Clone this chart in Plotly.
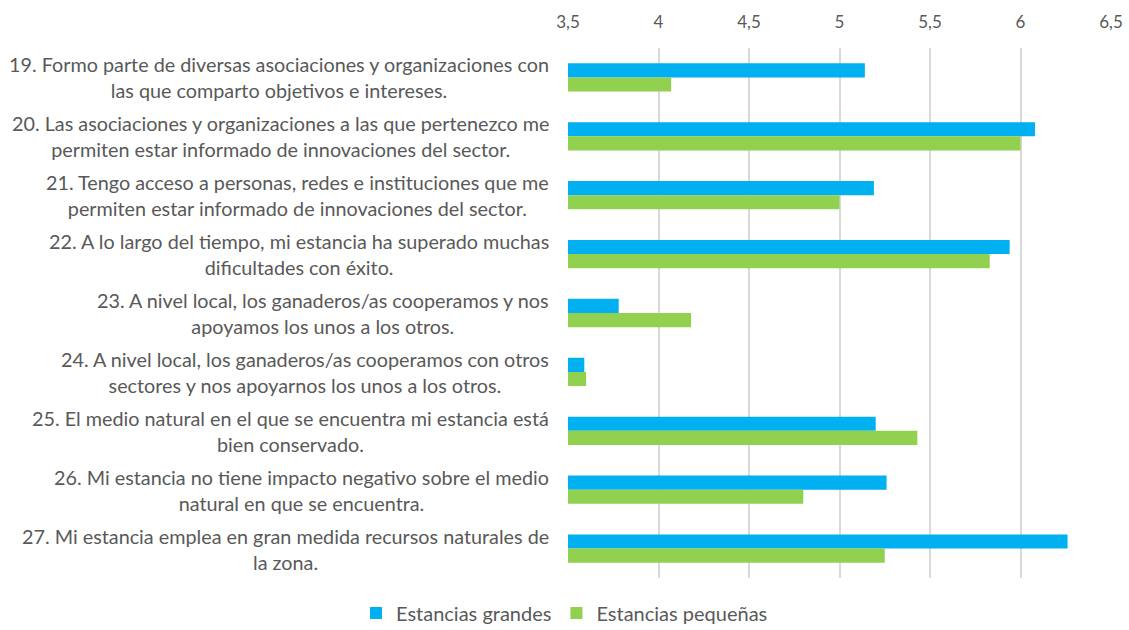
import plotly.graph_objects as go

categories = [
    "19. Formo parte de diversas asociaciones y organizaciones con<br>las que comparto objetivos e intereses.",
    "20. Las asociaciones y organizaciones a las que pertenezco me<br>permiten estar informado de innovaciones del sector.",
    "21. Tengo acceso a personas, redes e instituciones que me<br>permiten estar informado de innovaciones del sector.",
    "22. A lo largo del tiempo, mi estancia ha superado muchas<br>dificultades con éxito.",
    "23. A nivel local, los ganaderos/as cooperamos y nos<br>apoyamos los unos a los otros.",
    "24. A nivel local, los ganaderos/as cooperamos con otros<br>sectores y nos apoyarnos los unos a los otros.",
    "25. El medio natural en el que se encuentra mi estancia está<br>bien conservado.",
    "26. Mi estancia no tiene impacto negativo sobre el medio<br>natural en que se encuentra.",
    "27. Mi estancia emplea en gran medida recursos naturales de<br>la zona.",
]
grandes = [5.14, 6.08, 5.19, 5.94, 3.78, 3.59, 5.20, 5.26, 6.26]
pequenas = [4.07, 6.00, 5.00, 5.83, 4.18, 3.60, 5.43, 4.80, 5.25]
tick_vals = [3.5, 4, 4.5, 5, 5.5, 6, 6.5]

cat_ids = ["q" + c.split(".")[0] for c in categories]

FONT = "Lato"
GREY = "#595959"

fig = go.Figure()
fig.add_trace(go.Bar(y=cat_ids, x=grandes, orientation="h", name="Estancias grandes",
                     marker=dict(color="#00B0F0", line=dict(width=0))))
fig.add_trace(go.Bar(y=cat_ids, x=pequenas, orientation="h", name="Estancias pequeñas",
                     marker=dict(color="#92D050", line=dict(width=0))))

for cid, label in zip(cat_ids, categories):
    fig.add_annotation(x=0, xref="paper", y=cid, yref="y", text=label, showarrow=False,
                       xanchor="right", yanchor="middle", align="center", xshift=-17,
                       font=dict(family=FONT, size=19.8, color=GREY))

fig.update_layout(
    width=1129, height=630,
    margin=dict(l=568, r=18, t=48, b=52, autoexpand=False),
    paper_bgcolor="white", plot_bgcolor="white",
    barmode="group", bargap=0.52, bargroupgap=0,
    separators=", ",
    font=dict(family=FONT, size=16, color=GREY),
    xaxis=dict(range=[3.5, 6.5], side="top", tickvals=tick_vals,
               showgrid=True, gridcolor="#d9d9d9", gridwidth=1.5, zeroline=False,
               showline=False, ticks="", ticklabelstandoff=16,
               tickfont=dict(family=FONT, size=17, color=GREY)),
    yaxis=dict(type="category", autorange="reversed", showticklabels=False, showgrid=False,
               ticks="", zeroline=False, showline=False),
    legend=dict(orientation="h", x=0.5, xref="container", xanchor="center", y=-0.066,
                yanchor="middle", font=dict(family=FONT, size=20, color=GREY),
                tracegroupgap=0, itemwidth=30),
)
fig.write_html("out.html", config={"displayModeBar": False},
               post_script="document.body.style.margin='0';")
